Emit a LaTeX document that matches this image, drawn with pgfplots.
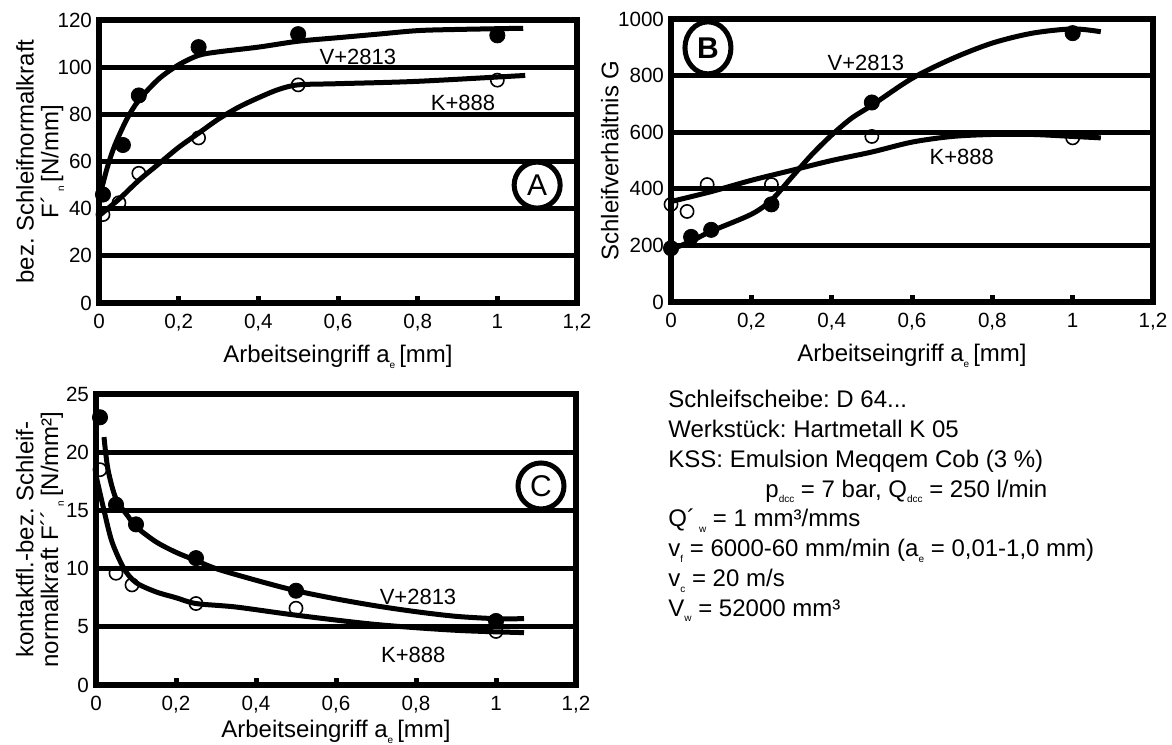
\documentclass[border=0pt]{standalone}
\usepackage{fontspec}
\setmainfont{Liberation Sans}
\usepackage{pgfplots}
\pgfplotsset{compat=1.18}
\usetikzlibrary{shapes.geometric}
\frenchspacing

% tiny lowered index as in the original figure
\newcommand\sub[1]{\raisebox{-0.45ex}{\fontsize{5}{5}\selectfont #1}}
\newcommand\tck{\fontsize{10.3}{12}\selectfont}
\newcommand\lbl{\fontsize{12}{12.4}\selectfont}
\newcommand\crv{\fontsize{11}{12}\selectfont}

\pgfplotsset{
  panel/.style={
    scale only axis,
    xmin=0, xmax=1.2,
    xtick={0,0.2,0.4,0.6,0.8,1,1.2},
    xticklabels={0,{0,2},{0,4},{0,6},{0,8},1,{1,2}},
    xtick pos=bottom, ytick pos=left,
    tick align=inside,
    major tick length=3.5pt,
    xtick style={line width=2.5pt, black},
    ytick style={draw=none},
    axis line style={line width=3pt, line join=miter},
    ymajorgrids,
    major grid style={line width=2.4pt, black},
    ticklabel style={font=\tck},
    xticklabel style={yshift=-2pt},
    /pgf/number format/assume math mode=true,
    /pgf/number format/1000 sep={},
    label style={font=\lbl},
    xlabel={Arbeitseingriff a\sub{e}\,[mm]},
    xlabel style={at={(axis description cs:0.5,0)}, anchor=center, yshift=-27pt},
    clip=false,
  },
  fitline/.style={black, line width=2.5pt, smooth, no marks},
  full/.style={only marks, mark=*, mark size=3.8pt, black},
  open/.style={only marks, mark=o, mark size=3.3pt, black, mark options={fill=white, line width=0.8pt}},
}
\tikzset{
  tag/.style={draw, circle, line width=2.5pt, minimum size=23pt, inner sep=0pt, font=\fontsize{15}{15}\selectfont},
}

\begin{document}
\begin{tikzpicture}
\useasboundingbox (0,0) rectangle (586pt,-372pt);

% ---------- A ----------
\begin{axis}[panel, at={(49.5pt,-151.5pt)}, anchor=south west,
  width=239pt, height=141.5pt,
  ymin=0, ymax=120, ytick={0,20,...,120},
  ylabel style={at={(axis description cs:-0.123,0.5)}, anchor=center, align=center},
  ylabel={bez. Schleifnormalkraft\\F´\,\sub{n}\,[N/mm]}]
\addplot[fitline] coordinates {(0,44) (0.02,57) (0.04,67) (0.07,78) (0.1,86) (0.15,95)
  (0.2,101) (0.25,105) (0.3,106.5) (0.4,108.5) (0.5,111) (0.6,112.5) (0.7,114)
  (0.8,115.5) (0.9,116) (1.065,116.5)};
\addplot[fitline] coordinates {(0,37) (0.05,44) (0.1,52) (0.15,59) (0.2,66) (0.25,72)
  (0.3,78) (0.35,83) (0.4,87) (0.45,90.5) (0.5,92.5) (0.6,93) (0.8,94) (1.07,96.5)};
\addplot[full] coordinates {(0.01,46) (0.06,67) (0.1,88) (0.25,108.5) (0.5,114) (1.0,113.5)};
\addplot[open] coordinates {(0.01,37.5) (0.05,42.5) (0.1,55) (0.25,70) (0.5,92.5) (1.0,94.5)};
\node[font=\crv] at (axis cs:0.65,104.3) {V+2813};
\node[font=\crv] at (axis cs:0.914,84.8) {K+888};
\node[tag] at (axis cs:1.10,50) {A};
\end{axis}

% ---------- B ----------
\begin{axis}[panel, at={(335.5pt,-151pt)}, anchor=south west,
  width=241pt, height=141.5pt,
  ymin=0, ymax=1000, ytick={0,200,...,1000},
  ylabel style={at={(axis description cs:-0.127,0.5)}, anchor=center},
  ylabel={Schleifverhältnis G}]
\addplot[fitline] coordinates {(0,185) (0.05,215) (0.1,250) (0.2,310) (0.25,360) (0.3,440)
  (0.35,520) (0.4,590) (0.45,650) (0.5,695) (0.6,790) (0.7,860) (0.8,915) (0.9,950)
  (1.0,965) (1.07,955)};
\addplot[fitline] coordinates {(0,355) (0.1,390) (0.2,430) (0.3,465) (0.4,500) (0.5,530)
  (0.6,565) (0.7,585) (0.8,592) (0.9,592) (1.0,585) (1.07,580)};
\addplot[full] coordinates {(0.0,190) (0.05,230) (0.1,255) (0.25,345) (0.5,705) (1.0,950)};
\addplot[open] coordinates {(0.0,345) (0.04,320) (0.09,415) (0.25,415) (0.5,585) (1.0,580)};
\node[font=\crv] at (axis cs:0.485,844) {V+2813};
\node[font=\crv] at (axis cs:0.724,512) {K+888};
\node[draw, ellipse, line width=2.5pt, minimum width=23pt, minimum height=26pt, inner sep=0pt,
  font=\fontsize{15}{15}\selectfont\bfseries] at (axis cs:0.092,898) {B};
\end{axis}

% ---------- C ----------
\begin{axis}[panel, at={(48pt,-342.5pt)}, anchor=south west,
  width=240pt, height=145.5pt,
  ymin=0, ymax=25, ytick={0,5,...,25},
  xlabel style={yshift=3.5pt},
  ylabel style={at={(axis description cs:-0.117,0.5)}, anchor=center, align=center},
  ylabel={kontaktfl.-bez. Schleif-\\normalkraft F´´\,\sub{n}\,[N/mm²]}]
\addplot[fitline] coordinates {(0.02,21.3) (0.03,18.5) (0.05,16) (0.08,14.5) (0.1,13.6)
  (0.15,12.3) (0.2,11.4) (0.25,10.7) (0.3,10.0) (0.4,9.0) (0.5,8.1) (0.6,7.4) (0.7,6.8)
  (0.8,6.3) (0.9,5.9) (1.0,5.7) (1.07,5.7)};
\addplot[fitline] coordinates {(0,18) (0.02,15) (0.04,12.3) (0.07,10) (0.1,8.8) (0.15,8.0)
  (0.2,7.5) (0.25,7.0) (0.35,6.7) (0.5,6.0) (0.7,5.2) (0.9,4.7) (1.07,4.5)};
\addplot[full] coordinates {(0.01,23) (0.05,15.5) (0.1,13.8) (0.25,10.9) (0.5,8.1) (1.0,5.5)};
\addplot[open] coordinates {(0.01,18.5) (0.05,9.6) (0.09,8.6) (0.25,7.0) (0.5,6.6) (1.0,4.6)};
\node[font=\crv] at (axis cs:0.805,7.56) {V+2813};
\node[font=\crv] at (axis cs:0.793,2.58) {K+888};
\node[tag] at (axis cs:1.1125,17.1) {C};
\end{axis}

% ---------- test conditions ----------
\begin{scope}[every node/.style={anchor=base west, inner sep=0pt, font=\lbl}]
\node at (334pt,-203.8pt) {Schleifscheibe: D 64...};
\node at (334pt,-218.7pt) {Werkstück: Hartmetall K 05};
\node at (334pt,-233.6pt) {KSS: Emulsion Meqqem Cob (3 \%)};
\node at (382.5pt,-248.5pt) {p\sub{dcc} = 7 bar, Q\sub{dcc} = 250 l/min};
\node at (334pt,-263.4pt) {Q´\,\sub{w} = 1 mm³/mms};
\node at (334pt,-278.3pt) {v\sub{f} = 6000-60 mm/min (a\sub{e} = 0,01-1,0 mm)};
\node at (334pt,-293.2pt) {v\sub{c} = 20 m/s};
\node at (334pt,-308.1pt) {V\sub{w} = 52000 mm³};
\end{scope}
\end{tikzpicture}
\end{document}
